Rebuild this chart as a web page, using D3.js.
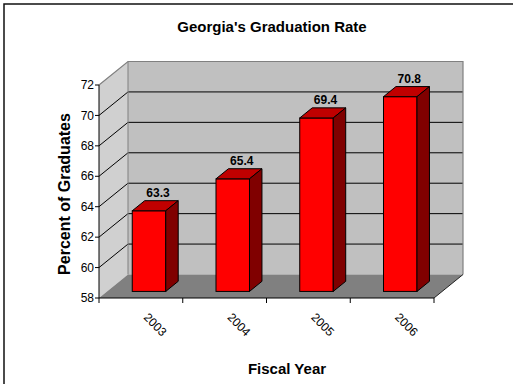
<!DOCTYPE html>
<html>
<head>
<meta charset="utf-8">
<script src="https://cdn.jsdelivr.net/npm/d3@7"></script>
<style>
  html, body { margin: 0; padding: 0; background: #fff; }
  svg { display: block; font-family: "Liberation Sans", Arial, sans-serif; }
</style>
</head>
<body>
<svg id="chart" width="513" height="384"></svg>
<script>
// Fiscal years and graduation rates (percent)
const years = ["2003", "2004", "2005", "2006"];
const rates = [63.3, 65.4, 69.4, 70.8];
const yTicks = [58, 60, 62, 64, 66, 68, 70, 72];

const svg = d3.select("#chart");

// Front plane of the 3-D box and the depth offset of the back wall
const plot = { x0: 99, x1: 434, yTop: 85, yBottom: 298 };
const depth = { dx: 29, dy: -23.5 };
// Bars sit between these fractions of the floor depth
const barDepth = { f0: 0.28, f1: 0.71 };

const vMin = yTicks[0], vMax = yTicks[yTicks.length - 1];

const x = d3.scaleBand()
  .domain(years)
  .range([plot.x0, plot.x1])
  .paddingInner(0.6)
  .paddingOuter(0.3);

const y = d3.scaleLinear()
  .domain([vMin, vMax])
  .range([plot.yBottom, plot.yTop]);

const step = x.step();
const bx0 = plot.x0 + depth.dx, bx1 = plot.x1 + depth.dx; // back wall x range
const by = v => y(v) + depth.dy;                          // back wall y
const pts = arr => arr.map(p => p.join(",")).join(" ");

// Outer frame
svg.append("path")
  .attr("d", `M4,384 L4,4 L513,4`)
  .attr("fill", "none").attr("stroke", "#111").attr("stroke-width", 1.5);

// Title
svg.append("text")
  .attr("x", 272).attr("y", 32)
  .attr("text-anchor", "middle")
  .attr("font-size", 15).attr("font-weight", "bold")
  .text("Georgia's Graduation Rate");

// Back wall
svg.append("rect")
  .attr("x", bx0).attr("y", by(vMax))
  .attr("width", bx1 - bx0)
  .attr("height", by(vMin) - by(vMax))
  .attr("fill", "#c0c0c0");

// Side wall
svg.append("polygon")
  .attr("points", pts([[plot.x0, y(vMax)], [bx0, by(vMax)], [bx0, by(vMin)], [plot.x0, y(vMin)]]))
  .attr("fill", "#d0d0d0");

// Floor
svg.append("polygon")
  .attr("points", pts([[plot.x0, y(vMin)], [plot.x1, y(vMin)], [bx1, by(vMin)], [bx0, by(vMin)]]))
  .attr("fill", "#808080");

// Gridlines on the back wall and the side wall
const inner = yTicks.filter(v => v !== vMax && v !== vMin);
svg.append("g").selectAll("line").data(inner).join("line")
  .attr("x1", bx0).attr("x2", bx1)
  .attr("y1", d => by(d)).attr("y2", d => by(d))
  .attr("stroke", "#000").attr("stroke-width", 1);
svg.append("g").selectAll("line").data(inner).join("line")
  .attr("x1", plot.x0).attr("x2", bx0)
  .attr("y1", d => y(d)).attr("y2", d => by(d))
  .attr("stroke", "#000").attr("stroke-width", 1);

// Wall borders
svg.append("path")
  .attr("d", `M${plot.x0},${y(vMax)} L${bx0},${by(vMax)} L${bx1},${by(vMax)} L${bx1},${by(vMin)}`)
  .attr("fill", "none").attr("stroke", "#808080").attr("stroke-width", 1.2);
svg.append("line")
  .attr("x1", bx0).attr("x2", bx0).attr("y1", by(vMax)).attr("y2", by(vMin))
  .attr("stroke", "#808080").attr("stroke-width", 1);
svg.append("line")
  .attr("x1", bx1).attr("y1", by(vMin)).attr("x2", plot.x1).attr("y2", y(vMin))
  .attr("stroke", "#222").attr("stroke-width", 1);

// Bars (front, top and right faces)
const bars = svg.append("g").selectAll("g")
  .data(years.map((yr, i) => ({ yr, v: rates[i] })))
  .join("g");
const fx = d => x(d.yr) + depth.dx * barDepth.f0;          // front-left x
const fy = v => y(v) + depth.dy * barDepth.f0;             // front y
const ddx = depth.dx * (barDepth.f1 - barDepth.f0);
const ddy = depth.dy * (barDepth.f1 - barDepth.f0);
const w = x.bandwidth();

bars.append("rect")
  .attr("x", d => fx(d)).attr("y", d => fy(d.v))
  .attr("width", w).attr("height", d => fy(vMin) - fy(d.v))
  .attr("fill", "#ff0000").attr("stroke", "#000").attr("stroke-width", 1);
bars.append("polygon")
  .attr("points", d => pts([
    [fx(d), fy(d.v)], [fx(d) + w, fy(d.v)], [fx(d) + w + ddx, fy(d.v) + ddy], [fx(d) + ddx, fy(d.v) + ddy]
  ]))
  .attr("fill", "#c00000").attr("stroke", "#000").attr("stroke-width", 1).attr("stroke-linejoin", "round");
bars.append("polygon")
  .attr("points", d => pts([
    [fx(d) + w, fy(d.v)], [fx(d) + w + ddx, fy(d.v) + ddy], [fx(d) + w + ddx, fy(vMin) + ddy], [fx(d) + w, fy(vMin)]
  ]))
  .attr("fill", "#800000").attr("stroke", "#000").attr("stroke-width", 1).attr("stroke-linejoin", "round");

// Value labels
bars.append("text")
  .attr("x", d => fx(d) + w / 2 + 9)
  .attr("y", d => fy(d.v) + ddy - 4)
  .attr("text-anchor", "middle")
  .attr("font-size", 12).attr("font-weight", "bold")
  .text(d => d.v.toFixed(1));

// Y axis
const yAxis = svg.append("g");
yAxis.append("line")
  .attr("x1", plot.x0).attr("x2", plot.x0).attr("y1", y(vMax)).attr("y2", y(vMin))
  .attr("stroke", "#000");
yAxis.selectAll("line.tick").data(yTicks).join("line")
  .attr("class", "tick")
  .attr("x1", plot.x0 - 4).attr("x2", plot.x0)
  .attr("y1", d => y(d)).attr("y2", d => y(d))
  .attr("stroke", "#000");
yAxis.selectAll("text").data(yTicks).join("text")
  .attr("x", plot.x0 - 5).attr("y", d => y(d))
  .attr("dy", "0.35em")
  .attr("text-anchor", "end")
  .attr("font-size", 12)
  .text(d => d);

// X axis
const xAxis = svg.append("g");
xAxis.append("line")
  .attr("x1", plot.x0).attr("x2", plot.x1).attr("y1", y(vMin)).attr("y2", y(vMin))
  .attr("stroke", "#000");
const bounds = years.map(d => x(d) - (step - x.bandwidth()) / 2).concat([plot.x1]);
xAxis.selectAll("line.tick").data(bounds).join("line")
  .attr("class", "tick")
  .attr("x1", d => d).attr("x2", d => d)
  .attr("y1", y(vMin)).attr("y2", y(vMin) + 5)
  .attr("stroke", "#000");
xAxis.selectAll("text").data(years).join("text")
  .attr("transform", d => `translate(${x(d) + x.bandwidth() / 2 + 2},318) rotate(45)`)
  .attr("font-size", 12)
  .text(d => d);

// Axis titles
svg.append("text")
  .attr("transform", `translate(70,194) rotate(-90)`)
  .attr("text-anchor", "middle")
  .attr("font-size", 16).attr("font-weight", "bold")
  .text("Percent of Graduates");
svg.append("text")
  .attr("x", 287).attr("y", 374)
  .attr("text-anchor", "middle")
  .attr("font-size", 15).attr("font-weight", "bold")
  .text("Fiscal Year");
</script>
</body>
</html>
